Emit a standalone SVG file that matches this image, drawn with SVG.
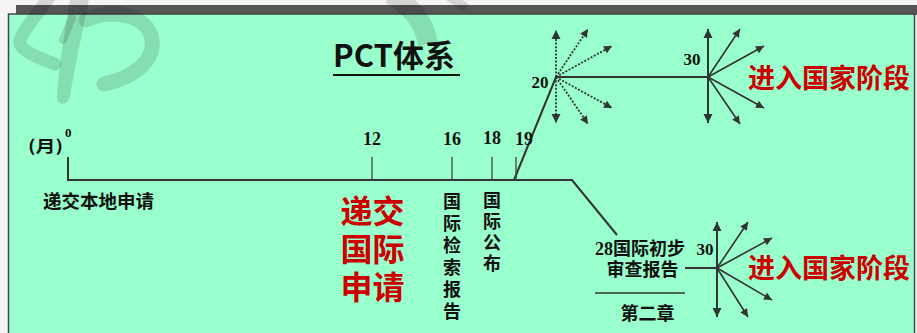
<svg xmlns="http://www.w3.org/2000/svg" width="917" height="333" viewBox="0 0 917 333">
<defs>
<style>
.cjk{font-family:"Noto Sans CJK SC","Noto Sans",sans-serif;font-weight:bold;}
.num{font-family:"Liberation Serif",serif;font-weight:bold;}
.blk{fill:#111;}
.red{fill:#cc0000;}
.ln{fill:none;stroke:#333;stroke-width:2;}
.tk{fill:none;stroke:#444;stroke-width:1.3;}
.ar{fill:none;stroke:#333;stroke-width:1.6;}
.arv{fill:none;stroke:#333;stroke-width:2;}
.dt{fill:none;stroke:#333;stroke-width:1.8;stroke-dasharray:2 1.6;}
.wm{fill:none;stroke:#000;stroke-opacity:0.13;}
.vt{writing-mode:vertical-rl;}
</style>
<marker id="ah" viewBox="0 0 10 10" markerUnits="userSpaceOnUse" markerWidth="9" markerHeight="8" refX="10" refY="5" orient="auto">
<path d="M0,0 L10,5 L0,10 z" fill="#333"/>
</marker>
<marker id="ahb" viewBox="0 0 10 10" markerUnits="userSpaceOnUse" markerWidth="9" markerHeight="11" refX="10" refY="5" orient="auto">
<path d="M0,0 L10,5 L0,10 z" fill="#333"/>
</marker>
</defs>

<g id="frame">
<rect x="0" y="0" width="917" height="333" fill="#f4f4f4"/>
<rect x="16" y="5" width="901" height="10" fill="#555"/>
<rect x="8.5" y="14" width="906" height="330" fill="#99ffcc" stroke="#444" stroke-width="1.5"/>
</g>

<g id="watermark">
<path class="wm" d="M50,-4 C38,14 24,28 20,40 C18,48 30,55 55,64" stroke-width="13" stroke-linecap="round"/>
<path d="M71,-6 L90,-6 C82,35 74,70 70,97 C68,106 56,106 57,97 C59,65 65,30 71,-6 Z" fill="#000" fill-opacity="0.13"/>
<path class="wm" d="M72,18 L63,40" stroke-width="8" stroke-linecap="round"/>
<path class="wm" d="M86,20 C112,8 148,14 152,40 C155,62 132,78 104,84" stroke-width="15" stroke-linecap="round"/>
<path class="wm" d="M390,-6 C408,4 424,20 428,44" stroke-width="20"/>
<path class="wm" d="M448,-4 C455,0 460,4 466,8" stroke-width="9"/>
</g>

<g id="title">
<text class="cjk blk" x="333" y="67" font-size="31">PCT体系</text>
<line x1="333" y1="75" x2="460" y2="75" stroke="#111" stroke-width="2.2"/>
</g>

<g id="connectors">
<path class="ln" d="M68,157 L68,180 L572,180 L617,235"/>
<path class="ln" d="M514,180 L556,77 L708,77"/>
<line class="tk" x1="372" y1="157" x2="372" y2="180"/>
<line class="tk" x1="452" y1="157" x2="452" y2="180"/>
<line class="tk" x1="492" y1="157" x2="492" y2="180"/>
<line class="tk" x1="516" y1="157" x2="516" y2="180"/>
<line class="ln" x1="685" y1="268" x2="717" y2="268"/>
<line x1="595" y1="293" x2="685" y2="293" stroke="#333" stroke-width="1.5"/>
</g>

<g id="fan20">
<line class="dt" x1="556" y1="77" x2="556" y2="30" marker-end="url(#ahb)"/>
<line class="dt" x1="556" y1="77" x2="556" y2="123" marker-end="url(#ahb)"/>
<line class="dt" x1="556" y1="77" x2="588" y2="29" marker-end="url(#ah)"/>
<line class="dt" x1="556" y1="77" x2="612" y2="46" marker-end="url(#ah)"/>
<line class="dt" x1="556" y1="77" x2="612" y2="108" marker-end="url(#ah)"/>
<line class="dt" x1="556" y1="77" x2="588" y2="124" marker-end="url(#ah)"/>
</g>

<g id="fan30a">
<line class="arv" x1="708" y1="77" x2="708" y2="29" marker-end="url(#ahb)"/>
<line class="arv" x1="708" y1="77" x2="708" y2="123" marker-end="url(#ahb)"/>
<line class="ar" x1="708" y1="77" x2="740" y2="29" marker-end="url(#ah)"/>
<line class="ar" x1="708" y1="77" x2="764" y2="46" marker-end="url(#ah)"/>
<line class="ar" x1="708" y1="77" x2="764" y2="108" marker-end="url(#ah)"/>
<line class="ar" x1="708" y1="77" x2="740" y2="124" marker-end="url(#ah)"/>
</g>

<g id="fan30b">
<line class="arv" x1="717" y1="268" x2="717" y2="222" marker-end="url(#ahb)"/>
<line class="arv" x1="717" y1="268" x2="717" y2="317" marker-end="url(#ahb)"/>
<line class="ar" x1="717" y1="268" x2="748" y2="222" marker-end="url(#ah)"/>
<line class="ar" x1="717" y1="268" x2="772" y2="238" marker-end="url(#ah)"/>
<line class="ar" x1="717" y1="268" x2="772" y2="300" marker-end="url(#ah)"/>
<line class="ar" x1="717" y1="268" x2="748" y2="317" marker-end="url(#ah)"/>
</g>

<g id="labels-axis">
<text class="cjk blk" x="28" y="152" font-size="16" textLength="35" lengthAdjust="spacingAndGlyphs">(月)</text>
<text class="num blk" x="65" y="137" font-size="13">0</text>
<text class="num blk" x="372" y="145" font-size="18" text-anchor="middle">12</text>
<text class="num blk" x="452" y="145" font-size="18" text-anchor="middle">16</text>
<text class="num blk" x="492" y="144" font-size="18" text-anchor="middle">18</text>
<text class="num blk" x="524" y="145" font-size="18" text-anchor="middle">19</text>
<text class="num blk" x="540" y="88" font-size="17" text-anchor="middle">20</text>
<text class="num blk" x="692" y="65" font-size="17" text-anchor="middle">30</text>
<text class="num blk" x="705" y="255" font-size="17" text-anchor="middle">30</text>
</g>

<g id="node-local">
<text class="cjk blk" x="43" y="208" font-size="18.5">递交本地申请</text>
</g>

<g id="node-intl">
<text class="cjk red" font-size="32" text-anchor="middle"><tspan x="372.5" y="223">递交</tspan><tspan x="372.5" y="261">国际</tspan><tspan x="372.5" y="299">申请</tspan></text>
</g>

<g id="node-search">
<text class="cjk blk vt" x="452" y="192" font-size="18" letter-spacing="4">国际检索报告</text>
</g>

<g id="node-publish">
<text class="cjk blk vt" x="492" y="191" font-size="18" letter-spacing="3">国际公布</text>
</g>

<g id="node-exam">
<text class="cjk blk" font-size="18" text-anchor="middle"><tspan x="640" y="255"><tspan class="num">28</tspan>国际初步</tspan><tspan x="642.5" y="276">审查报告</tspan></text>
<text class="cjk blk" x="647.5" y="320" font-size="18" text-anchor="middle">第二章</text>
</g>

<g id="node-national-1">
<text class="cjk red" x="748" y="88" font-size="27">进入国家阶段</text>
</g>
<g id="node-national-2">
<text class="cjk red" x="748" y="278" font-size="27">进入国家阶段</text>
</g>
</svg>
